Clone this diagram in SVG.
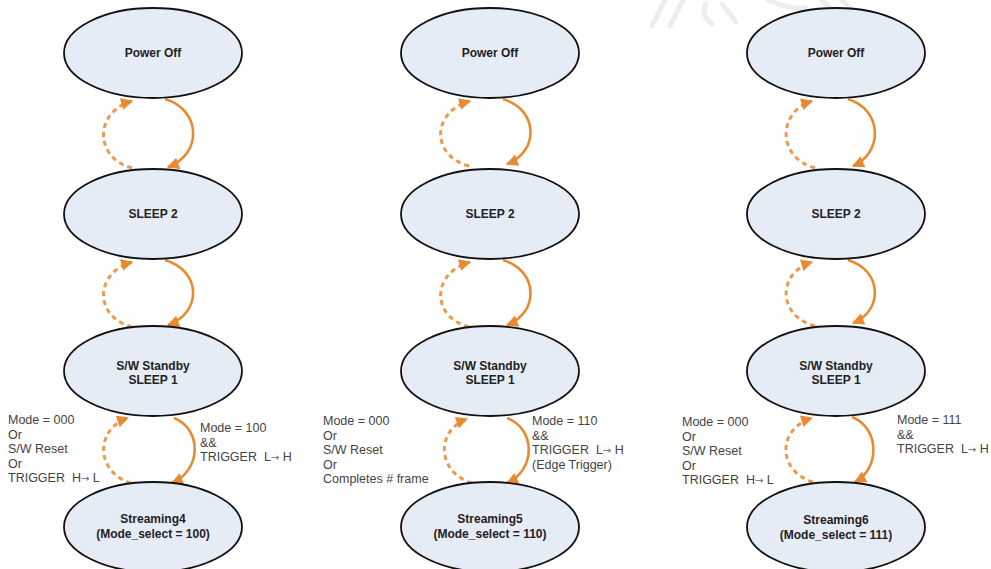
<svg xmlns="http://www.w3.org/2000/svg" width="991" height="569" viewBox="0 0 991 569">
  <style>
    .state { fill: #E6ECF5; stroke: #111; stroke-width: 1.8; }
    .name { font-family: "Liberation Sans", Arial, sans-serif; font-size: 12px; font-weight: bold; fill: #222; text-anchor: middle; }
    .cond { font-family: "Liberation Sans", Arial, sans-serif; font-size: 12.5px; fill: #444; white-space: pre; }
    .arr { font-family: "DejaVu Sans", sans-serif; font-size: 10px; fill: #666; }
    .go { fill: none; stroke: #EA8A30; stroke-width: 2.6; marker-end: url(#tip); }
    .back { fill: none; stroke: #EC9A50; stroke-width: 3; stroke-dasharray: 5 4; marker-end: url(#tip); }
    .mark { fill: none; stroke: #EDEDED; stroke-width: 5; stroke-linecap: round; }
  </style>
  <defs>
    <marker id="tip" viewBox="0 0 10 10" refX="9" refY="5" markerUnits="userSpaceOnUse" markerWidth="13" markerHeight="12" orient="auto">
      <path d="M0,0 L10,5 L0,10 Z" fill="#EA8A30"/>
    </marker>
  </defs>

  <rect width="991" height="569" fill="#fff"/>

  <!-- faint background marks -->
  <g id="marks">
    <path class="mark" d="M665,0 L652,26"/>
    <path class="mark" d="M683,0 L670,26"/>
    <path class="mark" d="M706,4 Q700,14 712,24"/>
    <path class="mark" d="M722,4 L736,22"/>
    <path class="mark" d="M768,0 Q790,10 805,8"/>
    <path class="mark" d="M822,0 L848,26"/>
    <path class="mark" d="M842,0 L866,24"/>
  </g>

  <!-- connectors -->
  <g id="connectors">
    <!-- column 1 -->
    <path class="back" d="M132,168 C94,158 94,112 132,101"/>
    <path class="go" d="M165,99 C202,110 202,155 168,167"/>
    <path class="back" d="M132,327 C94,317 94,273 132,262"/>
    <path class="go" d="M165,260 C202,271 202,313 168,325"/>
    <path class="back" d="M131,483 C95,472 95,429 128,418"/>
    <path class="go" d="M174,418 C202,429 202,470 172,483"/>
    <!-- column 2 -->
    <path class="back" d="M469,166 C431,156 431,112 470,101"/>
    <path class="go" d="M503,99 C539,110 539,152 507,164"/>
    <path class="back" d="M469,327 C431,317 431,273 470,262"/>
    <path class="go" d="M503,260 C539,271 539,313 507,325"/>
    <path class="back" d="M472,483 C436,472 436,430 467,419"/>
    <path class="go" d="M507,418 C536,429 536,470 507,483"/>
    <!-- column 3 -->
    <path class="back" d="M815,168 C777,158 777,112 812,101"/>
    <path class="go" d="M848,99 C883,110 883,153 853,166"/>
    <path class="back" d="M815,326 C777,316 777,273 812,262"/>
    <path class="go" d="M848,260 C883,271 883,311 853,323"/>
    <path class="back" d="M813,482 C777,471 777,429 812,418"/>
    <path class="go" d="M852,417 C880,428 880,469 855,482"/>
  </g>

  <!-- column 1 states -->
  <g id="c1-power-off">
    <ellipse class="state" cx="153" cy="53" rx="89" ry="45"/>
    <text class="name" x="153" y="57">Power Off</text>
  </g>
  <g id="c1-sleep2">
    <ellipse class="state" cx="153" cy="214" rx="89" ry="45"/>
    <text class="name" x="153" y="218">SLEEP 2</text>
  </g>
  <g id="c1-standby">
    <ellipse class="state" cx="153" cy="371" rx="89" ry="45"/>
    <text class="name" x="153" y="370">S/W Standby</text>
    <text class="name" x="153" y="384">SLEEP 1</text>
  </g>
  <g id="c1-streaming">
    <ellipse class="state" cx="153" cy="527" rx="89" ry="45"/>
    <text class="name" x="153" y="523">Streaming4</text>
    <text class="name" x="153" y="538">(Mode_select = 100)</text>
  </g>

  <!-- column 2 states -->
  <g id="c2-power-off">
    <ellipse class="state" cx="490" cy="53" rx="89" ry="45"/>
    <text class="name" x="490" y="57">Power Off</text>
  </g>
  <g id="c2-sleep2">
    <ellipse class="state" cx="490" cy="214" rx="89" ry="45"/>
    <text class="name" x="490" y="218">SLEEP 2</text>
  </g>
  <g id="c2-standby">
    <ellipse class="state" cx="490" cy="371" rx="89" ry="45"/>
    <text class="name" x="490" y="370">S/W Standby</text>
    <text class="name" x="490" y="384">SLEEP 1</text>
  </g>
  <g id="c2-streaming">
    <ellipse class="state" cx="490" cy="527" rx="89" ry="45"/>
    <text class="name" x="490" y="523">Streaming5</text>
    <text class="name" x="490" y="538">(Mode_select = 110)</text>
  </g>

  <!-- column 3 states -->
  <g id="c3-power-off">
    <ellipse class="state" cx="836" cy="53" rx="89" ry="45"/>
    <text class="name" x="836" y="57">Power Off</text>
  </g>
  <g id="c3-sleep2">
    <ellipse class="state" cx="836" cy="214" rx="89" ry="45"/>
    <text class="name" x="836" y="218">SLEEP 2</text>
  </g>
  <g id="c3-standby">
    <ellipse class="state" cx="836" cy="371" rx="89" ry="45"/>
    <text class="name" x="836" y="370">S/W Standby</text>
    <text class="name" x="836" y="384">SLEEP 1</text>
  </g>
  <g id="c3-streaming">
    <ellipse class="state" cx="836" cy="527" rx="89" ry="45"/>
    <text class="name" x="836" y="524">Streaming6</text>
    <text class="name" x="836" y="539">(Mode_select = 111)</text>
  </g>

  <!-- transition conditions -->
  <g id="c1-labels">
    <text class="cond" x="8" y="424">Mode = 000</text>
    <text class="cond" x="8" y="438.5">Or</text>
    <text class="cond" x="8" y="453">S/W Reset</text>
    <text class="cond" x="8" y="467.5">Or</text>
    <text class="cond" x="8" y="482">TRIGGER  H<tspan class="arr">→</tspan> L</text>
    <text class="cond" x="200" y="432">Mode = 100</text>
    <text class="cond" x="200" y="447">&amp;&amp;</text>
    <text class="cond" x="200" y="461">TRIGGER  L<tspan class="arr">→</tspan> H</text>
  </g>
  <g id="c2-labels">
    <text class="cond" x="323" y="425">Mode = 000</text>
    <text class="cond" x="323" y="439.5">Or</text>
    <text class="cond" x="323" y="454">S/W Reset</text>
    <text class="cond" x="323" y="468.5">Or</text>
    <text class="cond" x="323" y="483">Completes # frame</text>
    <text class="cond" x="532" y="425">Mode = 110</text>
    <text class="cond" x="532" y="440">&amp;&amp;</text>
    <text class="cond" x="532" y="454">TRIGGER  L<tspan class="arr">→</tspan> H</text>
    <text class="cond" x="532" y="469">(Edge Trigger)</text>
  </g>
  <g id="c3-labels">
    <text class="cond" x="682" y="426">Mode = 000</text>
    <text class="cond" x="682" y="440.5">Or</text>
    <text class="cond" x="682" y="455">S/W Reset</text>
    <text class="cond" x="682" y="469.5">Or</text>
    <text class="cond" x="682" y="484">TRIGGER  H<tspan class="arr">→</tspan> L</text>
    <text class="cond" x="897" y="424">Mode = 111</text>
    <text class="cond" x="897" y="439">&amp;&amp;</text>
    <text class="cond" x="897" y="453">TRIGGER  L<tspan class="arr">→</tspan> H</text>
  </g>
</svg>
